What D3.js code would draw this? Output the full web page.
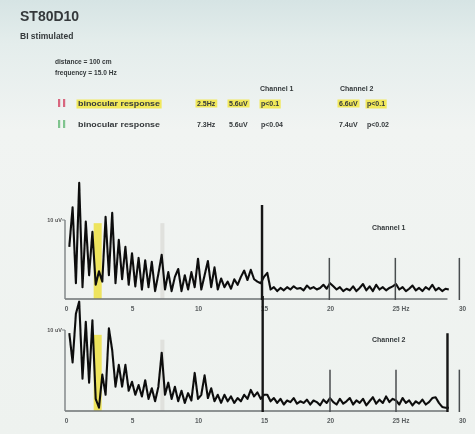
<!DOCTYPE html>
<html>
<head>
<meta charset="utf-8">
<script src="https://cdn.jsdelivr.net/npm/d3@7"></script>
<style>
  body { margin: 0; background: #eef2ef; }
  svg { display: block; font-family: "Liberation Sans", Arial, sans-serif; }
</style>
</head>
<body>
<script>
// spectrum bins, 0.25 Hz apart, first bin at 0.25 Hz
var binWidth = 0.25;

// amplitude per bin (uV), channel 1
var ch1Values = [
  6.6, 11.6, 2.0, 14.7, 1.5, 9.8, 3.0, 8.5, 1.8, 3.5,
  2.2, 10.4, 3.0, 10.9, 2.0, 7.5, 2.5, 6.6, 1.8, 5.8,
  1.6, 5.2, 1.2, 4.9, 1.5, 4.7, 1.0, 3.2, 5.6, 1.2,
  3.4, 1.0, 2.8, 3.8, 1.0, 3.0, 1.2, 3.4, 1.5, 5.1,
  1.2, 3.0, 4.8, 1.5, 4.0, 1.2, 2.6, 1.5, 2.2, 1.3,
  2.5, 1.8, 2.8, 3.6, 2.4, 3.7, 2.5, 2.2, 2.0, 2.8,
  3.3, 1.2, 1.5, 1.0, 1.4, 1.1, 1.5, 1.2, 1.6, 1.3,
  1.4, 1.1, 1.7, 1.3, 1.5, 1.2, 1.4, 1.8, 1.3, 2.0,
  1.6, 1.2, 1.5, 1.0, 1.3, 1.1, 1.6, 1.0, 1.4, 1.9,
  1.1, 1.6, 1.0, 1.8, 1.2, 1.5, 1.1, 1.4, 1.6, 1.9,
  1.2, 1.5, 1.0, 1.3, 1.7, 1.1, 1.4, 1.0, 1.5, 1.2,
  1.8, 1.1, 1.4, 1.0, 1.3, 1.2
];

// amplitude per bin (uV), channel 2
var ch2Values = [
  9.6, 6.0, 12.0, 13.5, 4.0, 11.0, 3.5, 11.2, 1.5, 0.4,
  4.5, 2.0, 10.2, 7.5, 3.0, 5.7, 3.0, 5.7, 2.5, 3.6,
  2.0, 3.2, 1.8, 3.8, 1.5, 2.8, 1.2, 3.0, 7.2, 2.0,
  3.5, 1.5, 3.0, 1.2, 2.5, 1.0, 2.2, 1.3, 4.7, 1.5,
  2.0, 4.4, 1.6, 2.8, 1.2, 2.0, 1.0, 2.0, 1.2, 1.8,
  1.0, 1.6, 1.2, 2.0, 1.5, 2.6, 1.8, 2.3, 1.5, 2.0,
  2.0, 1.2, 1.6, 1.0, 1.5, 0.8, 1.3, 1.1, 1.6, 0.9,
  1.2, 1.0, 1.4, 0.8, 1.3, 1.1, 0.7, 1.4, 1.0, 1.6,
  1.1, 0.8, 1.5, 0.9, 1.2, 1.6, 0.8, 1.3, 1.0, 1.5,
  0.7, 1.2, 1.7, 0.9, 1.4, 1.0, 1.8, 1.1, 1.5, 1.3,
  0.8, 1.6, 1.0, 1.3, 0.7, 1.2, 0.9, 1.4, 0.8, 1.1,
  1.6, 1.7, 1.0, 0.5, 0.4, 0.4
];

// narrow peaks drawn as lines: [frequency Hz, amplitude uV]
var ch1Peaks = [[14.85, 11.9], [19.95, 5.2], [24.95, 5.2], [29.8, 5.2]];
var ch2Peaks = [[14.9, 14.2], [20.0, 5.1], [25.0, 5.1], [28.9, 9.6], [29.8, 5.1]];

// response markers: [frequency Hz, height ch1, height ch2]
var responseMarks = [[2.4, 9.6, 9.4], [7.3, 9.6, 8.8]];

var xTicks = [0, 5, 10, 15, 20, 25, 30];

var tableHead = ["Channel 1", "Channel 2"];
var tableRows = [
  ["binocular response", "2.5Hz", "5.6uV", "p<0.1", "6.6uV", "p<0.1"],
  ["binocular response", "7.3Hz", "5.6uV", "p<0.04", "7.4uV", "p<0.02"]
];

var width = 475, height = 434;

var svg = d3.select("body").append("svg")
    .attr("width", width)
    .attr("height", height);

// photo-like background and a touch of blur
var defs = svg.append("defs");
var grad = defs.append("linearGradient").attr("id", "bg").attr("x1", 0).attr("y1", 0).attr("x2", 0).attr("y2", 1);
grad.append("stop").attr("offset", "0").attr("stop-color", "#d6e4e4");
grad.append("stop").attr("offset", "0.1").attr("stop-color", "#e4edec");
grad.append("stop").attr("offset", "0.3").attr("stop-color", "#f1f4f2");
grad.append("stop").attr("offset", "1").attr("stop-color", "#eef2ef");
defs.append("filter").attr("id", "soft")
    .append("feGaussianBlur").attr("stdDeviation", 0.35);

svg.append("rect").attr("width", width).attr("height", height).attr("fill", "url(#bg)");

var root = svg.append("g").attr("filter", "url(#soft)");
var ink = "#34393b";

// header
root.append("text").attr("x", 20).attr("y", 21)
    .attr("font-size", 14).attr("font-weight", "bold").attr("fill", ink)
    .text("ST80D10");
root.append("text").attr("x", 20).attr("y", 39)
    .attr("font-size", 8.5).attr("font-weight", "bold").attr("fill", ink)
    .text("BI stimulated");
root.append("text").attr("x", 55).attr("y", 64)
    .attr("font-size", 6.6).attr("font-weight", "bold").attr("fill", ink)
    .text("distance = 100 cm");
root.append("text").attr("x", 55).attr("y", 75)
    .attr("font-size", 6.6).attr("font-weight", "bold").attr("fill", ink)
    .text("frequency = 15.0 Hz");

// results table
var colX = [78, 197, 229, 261, 339, 367];
var headX = [260, 340];
var rowY = [106, 127];
var markColors = ["#d8667e", "#7fc48e"];

root.selectAll(".head").data(tableHead).enter().append("text")
    .attr("class", "head")
    .attr("x", function(d, i) { return headX[i]; })
    .attr("y", 91)
    .attr("font-size", 7).attr("font-weight", "bold").attr("fill", ink)
    .text(function(d) { return d; });

tableRows.forEach(function(row, r) {
    var g = root.append("g");
    // two little colour bars
    [0, 5].forEach(function(dx) {
        g.append("rect").attr("x", 58 + dx).attr("y", rowY[r] - 7)
            .attr("width", 2.2).attr("height", 8).attr("fill", markColors[r]);
    });
    row.forEach(function(cell, c) {
        var t = g.append("text")
            .attr("x", colX[c]).attr("y", rowY[r])
            .attr("font-size", 7).attr("font-weight", "bold").attr("fill", ink)
            .text(cell);
        if (c === 0) t.attr("textLength", 82).attr("lengthAdjust", "spacingAndGlyphs");
        if (r === 0) {
            var bb = t.node().getBBox();
            g.insert("rect", "text")
                .attr("x", bb.x - 1.5).attr("y", bb.y - 0.5)
                .attr("width", bb.width + 3).attr("height", bb.height + 1)
                .attr("fill", "#f1e85a");
        }
    });
});

// spectra
var x = d3.scaleLinear().domain([0, 30]).range([66, 462]);

var panels = [
    { values: ch1Values, peaks: ch1Peaks, base: 299, top: 220, name: "Channel 1", labelY: 230, mark: 1 },
    { values: ch2Values, peaks: ch2Peaks, base: 411, top: 330, name: "Channel 2", labelY: 342, mark: 2 }
];

panels.forEach(function(p) {
    var y = d3.scaleLinear().domain([0, 10]).range([p.base, p.top]);
    var g = root.append("g");

    // response marker bands
    g.selectAll(".band").data(responseMarks).enter().append("rect")
        .attr("x", function(d, i) { return x(d[0]) - (i === 0 ? 4 : 2); })
        .attr("width", function(d, i) { return i === 0 ? 8 : 4; })
        .attr("y", function(d) { return y(d[p.mark]); })
        .attr("height", function(d) { return y(0) - y(d[p.mark]); })
        .attr("fill", function(d, i) { return i === 0 ? "#ede24e" : "#dcdcd8"; })
        .attr("opacity", function(d, i) { return i === 0 ? 0.9 : 0.8; });

    // axes
    g.append("line")
        .attr("x1", x(0) - 1).attr("x2", x(28.9))
        .attr("y1", y(0)).attr("y2", y(0))
        .attr("stroke", "#6d7274").attr("stroke-width", 1.6);
    g.append("line")
        .attr("x1", x(0) - 1).attr("x2", x(0) - 1)
        .attr("y1", y(0)).attr("y2", y(10))
        .attr("stroke", "#7d8284").attr("stroke-width", 1.4);
    g.append("line")
        .attr("x1", x(0) - 4).attr("x2", x(0) - 1)
        .attr("y1", y(10)).attr("y2", y(10))
        .attr("stroke", "#7d8284").attr("stroke-width", 1);
    g.append("text")
        .attr("x", x(0) - 4).attr("y", y(10) + 2)
        .attr("text-anchor", "end")
        .attr("font-size", 5.5).attr("font-weight", "bold").attr("fill", "#555")
        .text("10 uV");

    var xAxis = d3.axisBottom(x)
        .tickValues(xTicks)
        .tickSize(0)
        .tickPadding(7)
        .tickFormat(function(d) { return d === 25 ? "25 Hz" : d; });
    var ax = g.append("g")
        .attr("transform", "translate(0," + y(0) + ")")
        .call(xAxis);
    ax.select(".domain").remove();
    ax.selectAll("text")
        .attr("font-size", 6.5).attr("font-weight", "bold").attr("fill", "#5a5f60")
        .attr("font-family", "Liberation Sans, Arial, sans-serif")
        .filter(function(d) { return d === 25; })
        .attr("text-anchor", "start").attr("dx", -4);

    // trace
    var line = d3.line()
        .x(function(d, i) { return x((i + 1) * binWidth); })
        .y(function(d) { return y(d); });
    g.append("path")
        .datum(p.values)
        .attr("d", line)
        .attr("fill", "none")
        .attr("stroke", "#0e0e0e")
        .attr("stroke-width", 2.1)
        .attr("stroke-linejoin", "round");

    // narrow peaks
    g.selectAll(".peak").data(p.peaks).enter().append("line")
        .attr("x1", function(d) { return x(d[0]); })
        .attr("x2", function(d) { return x(d[0]); })
        .attr("y1", y(0) + 1)
        .attr("y2", function(d) { return y(d[1]); })
        .attr("stroke", function(d) { return d[1] > 9 ? "#151515" : "#4a4e50"; })
        .attr("stroke-width", function(d) { return d[1] > 9 ? 2.4 : 1.5; });

    g.append("text")
        .attr("x", 372).attr("y", p.labelY)
        .attr("font-size", 7).attr("font-weight", "bold").attr("fill", ink)
        .text(p.name);
});
</script>
</body>
</html>
